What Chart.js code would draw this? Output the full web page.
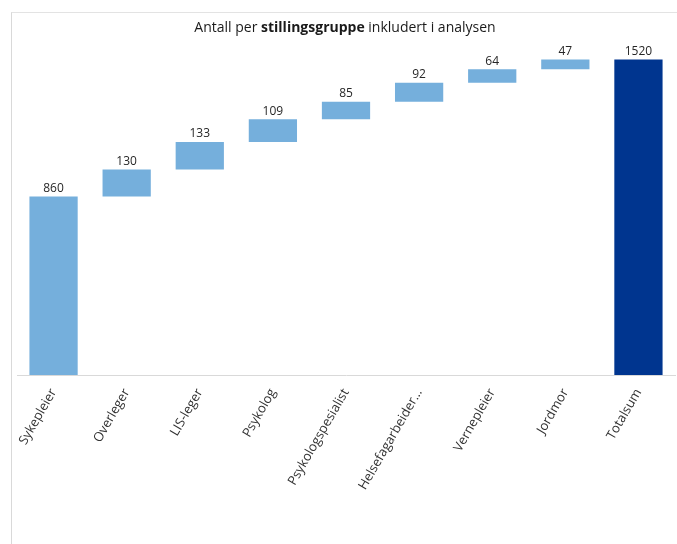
<!DOCTYPE html>
<html>
<head>
<meta charset="utf-8">
<script src="https://cdn.jsdelivr.net/npm/chart.js@4"></script>
<style>
    html, body { margin: 0; padding: 0; background: #fff; }
    #wrap { position: relative; width: 677px; height: 544px; }
    #frame {
        position: absolute; left: 11px; top: 12px; right: 0; bottom: 0;
        border-left: 1px solid #d9d9d9; border-top: 1px solid #e3e3e3;
    }
    #myChart { position: absolute; left: 0; top: 0; }
</style>
</head>
<body>
<div id="wrap">
    <div id="frame"></div>
    <canvas id="myChart" width="677" height="544"></canvas>
</div>
<script>
const categories = ['Sykepleier', 'Overleger', 'LIS-leger', 'Psykolog', 'Psykologspesialist',
    'Helsefagarbeider…', 'Vernepleier', 'Jordmor'];
const increments = [860, 130, 133, 109, 85, 92, 64, 47];
const totalLabel = 'Totalsum';
const titleParts = [
    { text: 'Antall per ', bold: false },
    { text: 'stillingsgruppe', bold: true },
    { text: ' inkludert i analysen', bold: false }
];

const stepColor = '#75afdc';
const totalColor = '#00358f';
const fontFamily = '"Open Sans", sans-serif';

// waterfall: each step floats on the running sum, the total starts at 0
let running = 0;
const floating = increments.map(function (v) {
    const bar = [running, running + v];
    running += v;
    return bar;
});
const total = running;
const labels = categories.concat([totalLabel]);
const barData = floating.concat([[0, total]]);
const barValues = increments.concat([total]);
const barColors = increments.map(() => stepColor).concat([totalColor]);

const titlePlugin = {
    id: 'mixedTitle',
    afterDraw(chart) {
        const ctx = chart.ctx;
        ctx.save();
        ctx.fillStyle = '#1a1a1a';
        ctx.textBaseline = 'middle';
        ctx.textAlign = 'left';
        const fonts = titleParts.map(p => (p.bold ? 'bold ' : '') + '14px ' + fontFamily);
        let width = 0;
        titleParts.forEach(function (p, i) {
            ctx.font = fonts[i];
            width += ctx.measureText(p.text).width;
        });
        let x = 345 - width / 2;
        titleParts.forEach(function (p, i) {
            ctx.font = fonts[i];
            ctx.fillText(p.text, x, 28);
            x += ctx.measureText(p.text).width;
        });
        ctx.restore();
    }
};

const valueLabels = {
    id: 'valueLabels',
    afterDatasetsDraw(chart) {
        const ctx = chart.ctx;
        const meta = chart.getDatasetMeta(0);
        ctx.save();
        ctx.font = '12px ' + fontFamily;
        ctx.fillStyle = '#262626';
        ctx.textAlign = 'center';
        ctx.textBaseline = 'bottom';
        meta.data.forEach(function (el, i) {
            const top = Math.min(el.y, el.base);
            ctx.fillText(String(barValues[i]), el.x, top - 2);
        });
        ctx.restore();
    }
};

const config = {
    type: 'bar',
    data: {
        labels: labels,
        datasets: [{
            data: barData,
            backgroundColor: barColors,
            borderWidth: 0,
            barPercentage: 0.66,
            categoryPercentage: 1
        }]
    },
    options: {
        responsive: false,
        animation: false,
        layout: {
            padding: { left: 17, right: 2, top: 43, bottom: 0 }
        },
        plugins: {
            legend: { display: false },
            title: { display: false },
            tooltip: { enabled: false }
        },
        scales: {
            x: {
                grid: { display: false },
                border: { display: true, color: '#d9d9d9', width: 1 },
                ticks: {
                    color: '#333',
                    font: { family: fontFamily, size: 13 },
                    minRotation: 60,
                    maxRotation: 60,
                    padding: 3,
                    autoSkip: false
                },
                afterFit: function (scale) {
                    scale.height = 169;
                }
            },
            y: {
                display: false,
                min: 0,
                max: 1600
            }
        }
    },
    plugins: [titlePlugin, valueLabels]
};

const myChart = new Chart(document.getElementById('myChart'), config);
</script>
</body>
</html>
